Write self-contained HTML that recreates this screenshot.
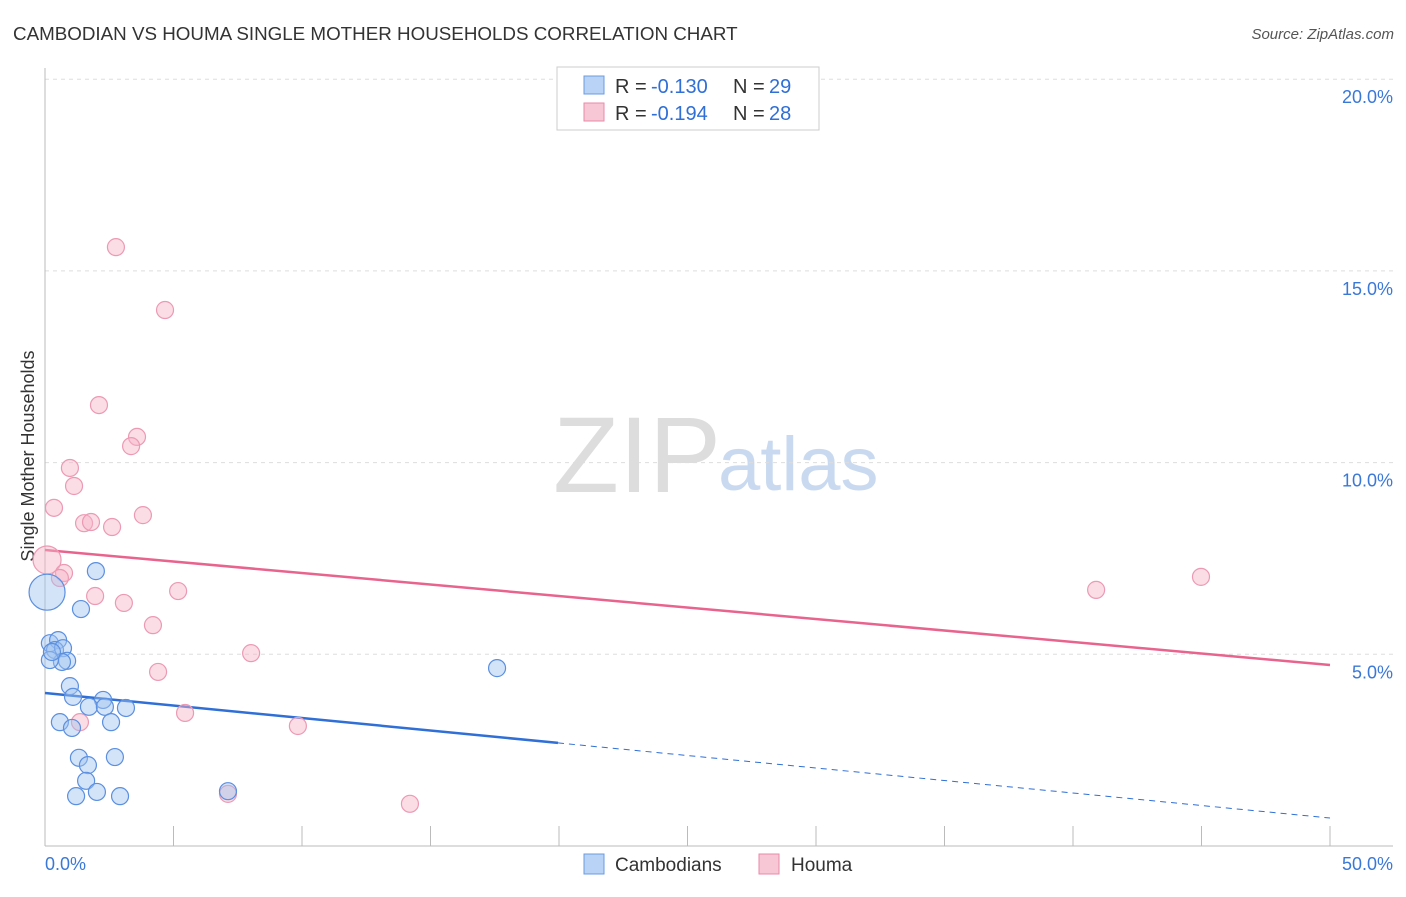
<!DOCTYPE html>
<html><head><meta charset="utf-8"><style>
body{margin:0;background:#fff;font-family:"Liberation Sans",sans-serif;}
svg text{font-family:"Liberation Sans",sans-serif;}
</style></head><body>
<svg id="chart" width="1406" height="892">
<text x="13" y="40" font-size="18.8" fill="#333">CAMBODIAN VS HOUMA SINGLE MOTHER HOUSEHOLDS CORRELATION CHART</text>
<text x="1394" y="39" font-size="15" fill="#555" text-anchor="end" font-style="italic">Source: ZipAtlas.com</text>
<text x="553" y="492" font-size="108" fill="#ddd" font-family="Liberation Serif">ZIP</text>
<text x="718" y="490" font-size="76" fill="#c9daf0">atlas</text>
<text transform="translate(34,456) rotate(-90)" font-size="18" fill="#333" text-anchor="middle">Single Mother Households</text>
<g id="grid"></g><g id="trend"></g><g id="pts"></g>
<g>
<rect x="557" y="67" width="262" height="63" fill="#fff" stroke="#ccc"/>
<rect x="584" y="76" width="20" height="18" fill="#b8d3f5" stroke="#6a9be0"/>
<rect x="584" y="103" width="20" height="18" fill="#f8c7d6" stroke="#e98aa8"/>
<text x="615" y="93" font-size="20" fill="#333">R =</text><text x="651" y="93" font-size="20" fill="#2f6fd6">-0.130</text>
<text x="733" y="93" font-size="20" fill="#333">N =</text><text x="769" y="93" font-size="20" fill="#2f6fd6">29</text>
<text x="615" y="120" font-size="20" fill="#333">R =</text><text x="651" y="120" font-size="20" fill="#2f6fd6">-0.194</text>
<text x="733" y="120" font-size="20" fill="#333">N =</text><text x="769" y="120" font-size="20" fill="#2f6fd6">28</text>
</g>
<g>
<rect x="584" y="854" width="20" height="20" fill="#b8d3f5" stroke="#6a9be0"/>
<text x="615" y="871" font-size="19" fill="#333">Cambodians</text>
<rect x="759" y="854" width="20" height="20" fill="#f8c7d6" stroke="#e98aa8"/>
<text x="791" y="871" font-size="19" fill="#333">Houma</text>
</g>
</svg>
<script>
const yTicks=[5,10,15,20];
const xTickLabels=["0.0%","50.0%"];
const blueX=[1.98,1.40,0.08,0.19,0.51,0.39,0.70,0.86,0.66,0.19,0.27,0.97,1.09,2.26,1.71,2.33,3.15,0.58,2.57,1.05,1.32,2.72,1.67,1.60,1.21,2.02,2.92,7.12,17.59];
const blueY=[7.17,6.18,6.62,5.29,5.37,5.11,5.16,4.83,4.80,4.85,5.06,4.17,3.89,3.81,3.63,3.63,3.60,3.23,3.23,3.08,2.30,2.32,2.11,1.70,1.30,1.41,1.30,1.43,4.64];
const pinkX=[2.76,4.67,2.10,3.58,3.35,0.97,1.13,0.35,1.52,1.79,2.61,3.81,0.08,0.74,0.58,1.95,3.07,5.18,4.20,4.40,8.02,5.45,1.36,9.84,7.12,14.20,40.90,44.98];
const pinkY=[15.62,13.98,11.50,10.67,10.43,9.86,9.39,8.82,8.42,8.45,8.32,8.63,7.46,7.12,6.99,6.52,6.34,6.65,5.76,4.54,5.03,3.47,3.23,3.13,1.36,1.10,6.68,7.02];
const pinkTrend=[7.72,4.72];
const blueTrend=[3.99,0.73];
const blueSolidEnd=19.96;
const NS="http://www.w3.org/2000/svg";
const sx=v=>45+v*25.7, sy=v=>846-v*38.34;
function mk(t,a,p){const e=document.createElementNS(NS,t);for(const k in a)e.setAttribute(k,a[k]);p.appendChild(e);return e;}
const grid=document.getElementById('grid');
yTicks.forEach(t=>{
 const l=mk('line',{x1:45,x2:1393,y1:sy(t),y2:sy(t),stroke:'#ddd','stroke-dasharray':'4,4'},grid);
 
 
 const tx=mk('text',{x:1393,y:sy(t)+24,'font-size':18,fill:'#3a78d8','text-anchor':'end'},grid);
 tx.textContent=t.toFixed(1)+'%';
 
 
});
mk('line',{x1:45,x2:45,y1:68,y2:846,stroke:'#bbb'},grid);
mk('line',{x1:45,x2:1393,y1:846,y2:846,stroke:'#bbb'},grid);
for(let i=0;i<=10;i++){const l=mk('line',{x1:sx(i*5),x2:sx(i*5),y1:826,y2:846,stroke:'#bbb'},grid);
 
 }
[[0,45,'start'],[50,1393,'end']].forEach((d,i)=>{const t=mk('text',{x:d[1],y:870,'font-size':18,fill:'#3a78d8','text-anchor':d[2]},grid);t.textContent=xTickLabels[i];
 
 });
const tr=document.getElementById('trend');
let l1=mk('line',{x1:sx(0),y1:sy(pinkTrend[0]),x2:sx(50),y2:sy(pinkTrend[1]),stroke:'#e8648e','stroke-width':2.5},tr);


const by=x=>blueTrend[0]+(blueTrend[1]-blueTrend[0])*x/50;
let l2=mk('line',{x1:sx(0),y1:sy(by(0)),x2:sx(blueSolidEnd),y2:sy(by(blueSolidEnd)),stroke:'#2f6fd6','stroke-width':2.5},tr);


let l3=mk('line',{x1:sx(blueSolidEnd),y1:sy(by(blueSolidEnd)),x2:sx(50),y2:sy(by(50)),stroke:'#2f6fd6','stroke-width':1,'stroke-dasharray':'6,5'},tr);


const pts=document.getElementById('pts');
pinkX.forEach((x,i)=>{const c=mk('circle',{cx:sx(x),cy:sy(pinkY[i]),r:(i==12?14:8.5),fill:'rgba(246,180,200,0.45)',stroke:'#ec9ab4','stroke-width':1.2},pts);
 
 });
blueX.forEach((x,i)=>{const c=mk('circle',{cx:sx(x),cy:sy(blueY[i]),r:(i==2?18:8.5),fill:'rgba(160,195,240,0.45)',stroke:'#5b8fe0','stroke-width':1.2},pts);
 
 });
</script>
</body></html>
